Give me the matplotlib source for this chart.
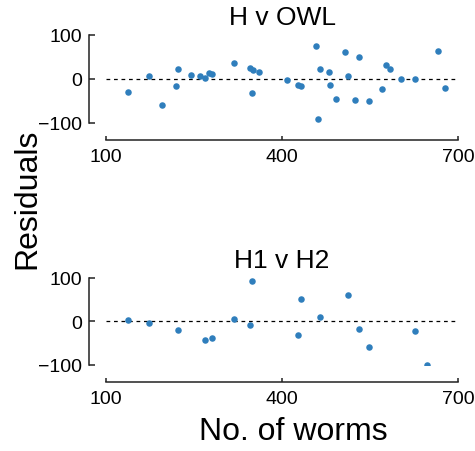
import matplotlib
matplotlib.use('Agg')
import numpy as np
import matplotlib.pyplot as plt

plt.rcParams['font.family'] = ['Liberation Sans', 'DejaVu Sans']

# residuals, H v OWL
owl_worms = [137, 174, 195, 219, 223, 245, 261, 268, 276, 281, 318, 345, 349, 351,
             360, 408, 428, 432, 458, 462, 465, 480, 482, 492, 508, 513, 524, 532,
             548, 570, 577, 584, 602, 627, 666, 678]
owl_resid = [-29, 6, -58, -17, 22, 10, 6, 3, 14, 12, 36, 25, -32, 20,
             17, -2, -13, -16, 74, -91, 23, 15, -14, -46, 61, 6, -48, 49,
             -49, -23, 32, 23, 0, 0, 64, -20]

# residuals, H1 v H2
h_worms = [137, 174, 223, 269, 281, 318, 345, 349, 428, 432, 465, 513, 532, 548, 627, 647]
h_resid = [3, -4, -19, -42, -37, 5, -8, 93, -30, 52, 11, 61, -18, -59, -22, -100]

panels = [("H v OWL", owl_worms, owl_resid), ("H1 v H2", h_worms, h_resid)]
xticks = [100, 400, 700]
yticks = [-100, 0, 100]

fig = plt.figure(figsize=(4.75, 4.52), dpi=100)
rects = [[0.2232, 0.7257, 0.741, 0.1947], [0.2232, 0.1903, 0.741, 0.1925]]

for rect, (title, xs, ys) in zip(rects, panels):
    ax = fig.add_axes(rect)
    ax.scatter(xs, ys, s=22, color='#2f7ebc', linewidths=0, zorder=3)
    ax.axhline(0, color='black', lw=0.9, ls=(0, (3, 3)), zorder=2)
    ax.set_xlim(100, 700)
    ax.set_ylim(-100, 100)
    ax.set_xticks(xticks)
    ax.set_yticks(yticks)
    ax.set_yticklabels(['\u2212100', '0', '100'])
    ax.tick_params(labelsize=14, direction='in', width=1.1, color='#222222')
    ax.tick_params(axis='y', length=4.5, pad=5)
    ax.tick_params(axis='x', length=3, pad=6)
    for side in ['top', 'right']:
        ax.spines[side].set_visible(False)
    for side in ['left', 'bottom']:
        ax.spines[side].set_position(('outward', 12))
        ax.spines[side].set_color('#222222')
        ax.spines[side].set_linewidth(1.1)
    ax.set_title(title, fontsize=19, pad=8)

fig.text(0.057, 0.56, 'Residuals', rotation=90, fontsize=23, ha='center', va='center')
fig.text(0.617, 0.045, 'No. of worms', fontsize=23, ha='center', va='center')

plt.savefig('out.png', dpi=100)
